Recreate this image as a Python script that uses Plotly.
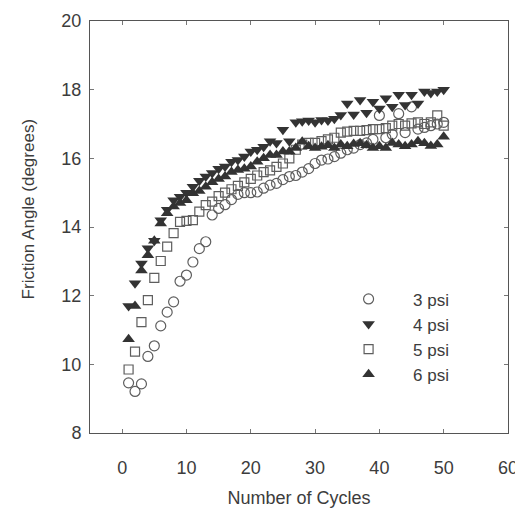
import plotly.graph_objects as go

cycles = list(range(1, 51))

psi3 = [9.46, 9.21, 9.43, 10.23, 10.54, 11.12, 11.52, 11.82, 12.42, 12.60,
        12.98, 13.37, 13.57, 14.35, 14.54, 14.65, 14.80, 14.95, 15.00, 15.00,
        15.02, 15.13, 15.22, 15.27, 15.38, 15.47, 15.50, 15.60, 15.70, 15.85,
        15.95, 15.98, 16.05, 16.15, 16.25, 16.30, 16.40, 16.45, 16.55, 17.25,
        16.60, 16.70, 17.30, 16.75, 17.50, 16.85, 16.90, 16.95, 17.00, 17.05]

psi4 = [11.70, 12.36, 12.94, 13.38, 13.60, 14.20, 14.50, 14.78, 14.88, 15.00,
        15.17, 15.35, 15.47, 15.57, 15.70, 15.76, 15.90, 15.95, 16.05, 16.20,
        16.25, 16.34, 16.50, 16.45, 16.83, 16.50, 17.05, 17.08, 17.10, 17.05,
        17.12, 17.10, 17.15, 17.26, 17.60, 17.28, 17.70, 17.33, 17.65, 17.45,
        17.75, 17.50, 17.85, 17.55, 17.85, 17.60, 17.95, 17.90, 17.95, 18.00]

psi5 = [9.85, 10.37, 11.23, 11.87, 12.52, 13.01, 13.43, 13.82, 14.15, 14.18,
        14.20, 14.45, 14.64, 14.74, 14.90, 15.00, 15.10, 15.20, 15.30, 15.40,
        15.50, 15.60, 15.65, 15.75, 15.85, 16.00, 16.25, 16.40, 16.45, 16.45,
        16.50, 16.55, 16.60, 16.75, 16.78, 16.80, 16.80, 16.82, 16.85, 16.85,
        16.88, 16.95, 17.00, 16.95, 17.02, 17.05, 17.00, 17.05, 17.25, 16.95]

psi6 = [10.73, 11.70, 12.73, 13.18, 13.60, 14.10, 14.40, 14.60, 14.70, 14.78,
        14.98, 15.05, 15.17, 15.30, 15.40, 15.47, 15.60, 15.66, 15.70, 15.76,
        15.90, 16.00, 16.10, 16.10, 16.20, 16.20, 16.30, 16.48, 16.35, 16.30,
        16.34, 16.38, 16.30, 16.40, 16.35, 16.42, 16.44, 16.38, 16.30, 16.35,
        16.30, 16.45, 16.40, 16.35, 16.40, 16.50, 16.44, 16.36, 16.40, 16.63]

names = ["3 psi", "4 psi", "5 psi", "6 psi"]
x_ticks = [0, 10, 20, 30, 40, 50, 60]
y_ticks = [8, 10, 12, 14, 16, 18, 20]
x_title = "Number of Cycles"
y_title = "Friction Angle (degrees)"

dark = "#333333"
hollow = "#5e5e5e"

styles = [
    dict(symbol="circle-open", size=10, color=hollow, line=dict(width=1.2, color=hollow)),
    dict(symbol="triangle-down", size=11, color=dark, line=dict(width=0)),
    dict(symbol="square-open", size=9, color=hollow, line=dict(width=1.2, color=hollow)),
    dict(symbol="triangle-up", size=11, color=dark, line=dict(width=0)),
]

fig = go.Figure()
for name, ys, st in zip(names, [psi3, psi4, psi5, psi6], styles):
    fig.add_trace(go.Scatter(x=cycles, y=ys, mode="markers", name=name, marker=st))

font_family = "Liberation Sans, Arial, sans-serif"
text_color = "#3c3c3c"
axis_common = dict(
    showgrid=False, zeroline=False, showline=True, linecolor="#555555", linewidth=1,
    mirror="ticks", ticks="inside", ticklen=4, tickcolor="#777777",
    automargin=False,
    tickfont=dict(family=font_family, size=18, color=text_color),
)

fig.update_layout(
    width=515, height=500,
    paper_bgcolor="white", plot_bgcolor="white",
    margin=dict(l=82, r=15, t=13, b=75),
    xaxis=dict(range=[-5, 60], tickvals=x_ticks, ticklabelstandoff=18,
               title=dict(text=x_title, standoff=14,
                          font=dict(family=font_family, size=18, color=text_color)),
               **axis_common),
    yaxis=dict(range=[8, 20], tickvals=y_ticks, ticklabelstandoff=4,
               **axis_common),
    legend=dict(x=0.56, y=0.368, xanchor="left", yanchor="top",
                bgcolor="rgba(0,0,0,0)", itemwidth=79, tracegroupgap=0,
                font=dict(family=font_family, size=17, color=text_color)),
    showlegend=True,
    annotations=[dict(text=y_title, textangle=-90, xref="paper", yref="paper",
                      x=-0.148, y=0.543, xanchor="center", yanchor="middle",
                      showarrow=False,
                      font=dict(family=font_family, size=17, color=text_color))],
)

fig.write_html("out.html")
